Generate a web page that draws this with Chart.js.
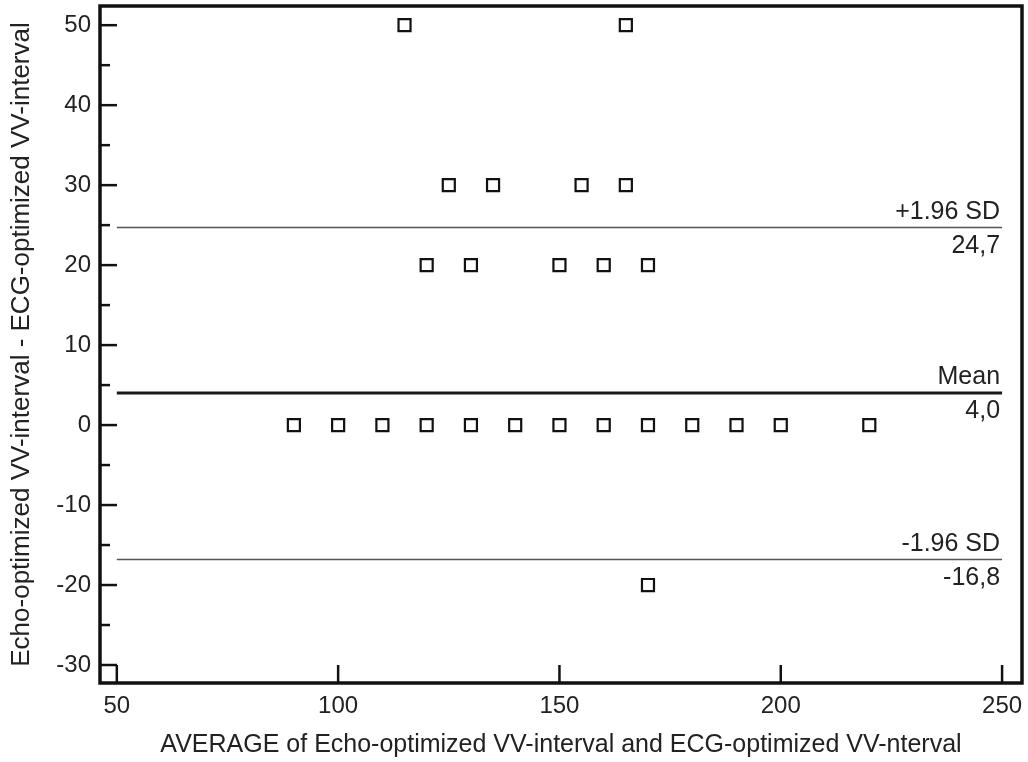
<!DOCTYPE html>
<html>
<head>
<meta charset="utf-8">
<style>
  html, body { margin: 0; padding: 0; background: #fff; }
  #grafico { display: block; }
</style>
<script src="https://cdn.jsdelivr.net/npm/chart.js@4/dist/chart.umd.min.js"></script>
</head>
<body>
<canvas id="grafico" width="1028" height="762"></canvas>
<script>
// puntos (media, diferencia)
const promedio = [115, 165, 125, 135, 155, 165, 120, 130, 150, 160, 170,
                  90, 100, 110, 120, 130, 140, 150, 160, 170, 180, 190, 200, 220, 170];
const diferencia = [50, 50, 30, 30, 30, 30, 20, 20, 20, 20, 20,
                    0, 0, 0, 0, 0, 0, 0, 0, 0, 0, 0, 0, 0, -20];

// lineas de concordancia
const lineasNombre = ['+1.96 SD', 'Mean', '-1.96 SD'];
const lineasValor = [24.7, 4.0, -16.8];

// ejes
const ticksX = [50, 100, 150, 200, 250];
const ticksY = [-30, -20, -10, 0, 10, 20, 30, 40, 50];
const ticksYMenor = [-25, -15, -5, 5, 15, 25, 35, 45];

const fuente = '"Liberation Sans", Arial, sans-serif';

const puntos = promedio.map((x, i) => ({ x: x, y: diferencia[i] }));

const datasetsLineas = lineasValor.map((v, i) => ({
    type: 'line',
    data: [{ x: ticksX[0], y: v }, { x: ticksX[ticksX.length - 1], y: v }],
    borderColor: i === 1 ? '#1a1a1a' : '#555',
    borderWidth: i === 1 ? 3 : 1.5,
    pointRadius: 0,
    order: 2
}));

// marco, marcas internas y textos de las lineas
const marcoPlugin = {
    id: 'marco',
    afterDatasetsDraw(chart) {
        const ctx = chart.ctx;
        const a = chart.chartArea;
        const sx = chart.scales.x;
        const sy = chart.scales.y;
        ctx.save();
        ctx.strokeStyle = '#111';
        ctx.lineWidth = 2.5;
        ticksY.forEach(v => {
            const y = sy.getPixelForValue(v);
            ctx.beginPath(); ctx.moveTo(a.left, y); ctx.lineTo(a.left + 17, y); ctx.stroke();
        });
        ticksYMenor.forEach(v => {
            const y = sy.getPixelForValue(v);
            ctx.beginPath(); ctx.moveTo(a.left, y); ctx.lineTo(a.left + 10, y); ctx.stroke();
        });
        ticksX.forEach(v => {
            const x = sx.getPixelForValue(v);
            ctx.beginPath(); ctx.moveTo(x, a.bottom); ctx.lineTo(x, a.bottom - 18); ctx.stroke();
        });
        ctx.lineWidth = 3.5;
        ctx.strokeRect(a.left, a.top, a.right - a.left, a.bottom - a.top);

        ctx.fillStyle = '#222';
        ctx.font = '25px ' + fuente;
        ctx.textAlign = 'right';
        const xd = sx.getPixelForValue(ticksX[ticksX.length - 1]) - 2;
        lineasValor.forEach((v, i) => {
            const y = sy.getPixelForValue(v);
            ctx.textBaseline = 'bottom';
            ctx.fillText(lineasNombre[i], xd, y - 3);
            ctx.textBaseline = 'top';
            ctx.fillText(v.toFixed(1).replace('.', ','), xd, y + 6);
        });
        ctx.restore();
    }
};

const config = {
    type: 'scatter',
    data: {
        datasets: [{
            data: puntos,
            pointStyle: 'rect',
            pointRadius: 8.5,
            pointHoverRadius: 8.5,
            pointBackgroundColor: '#fff',
            pointBorderColor: '#111',
            pointBorderWidth: 2.2,
            order: 1
        }].concat(datasetsLineas)
    },
    options: {
        responsive: false,
        animation: false,
        layout: { autoPadding: false, padding: { top: 6, right: 6, left: 0, bottom: 0 } },
        plugins: { legend: { display: false }, tooltip: { enabled: false } },
        scales: {
            x: {
                type: 'linear',
                min: 46.2,
                max: 254.5,
                afterBuildTicks: s => { s.ticks = ticksX.map(v => ({ value: v })); },
                afterFit: s => { s.height = 79; s.paddingLeft = 0; s.paddingRight = 0; },
                grid: { display: false, drawTicks: false },
                border: { display: false },
                ticks: { color: '#222', font: { size: 24, family: fuente }, padding: 9, maxRotation: 0 },
                title: {
                    display: true,
                    text: 'AVERAGE of Echo-optimized VV-interval and ECG-optimized VV-nterval',
                    color: '#222',
                    font: { size: 25, family: fuente },
                    padding: { top: 0, bottom: 2 }
                }
            },
            y: {
                type: 'linear',
                min: -32.25,
                max: 52.4,
                afterBuildTicks: s => { s.ticks = ticksY.map(v => ({ value: v })); },
                afterFit: s => { s.width = 100; s.paddingTop = 0; s.paddingBottom = 0; },
                grid: { display: false, drawTicks: false },
                border: { display: false },
                ticks: { color: '#222', font: { size: 24, family: fuente }, padding: 9 },
                title: {
                    display: true,
                    text: 'Echo-optimized VV-interval - ECG-optimized VV-interval',
                    color: '#222',
                    font: { size: 26, family: fuente },
                    padding: { top: 6, bottom: 0 }
                }
            }
        }
    },
    plugins: [marcoPlugin]
};

const ctx = document.getElementById('grafico').getContext('2d');
new Chart(ctx, config);
</script>
</body>
</html>
